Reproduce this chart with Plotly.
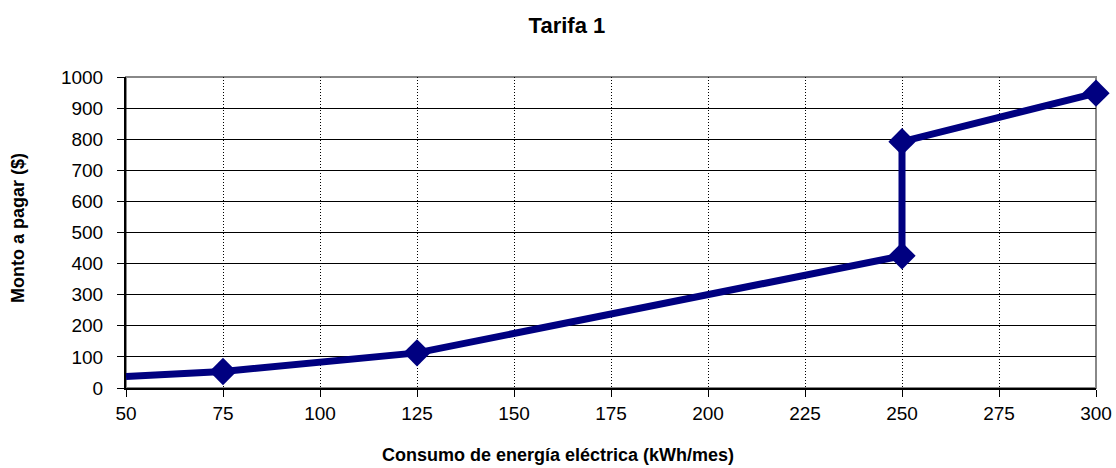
import plotly.graph_objects as go

consumo = [50, 75, 125, 250, 250, 300]
monto = [37, 53, 113, 425, 792, 948]
x_ticks = [50, 75, 100, 125, 150, 175, 200, 225, 250, 275, 300]
y_ticks = [0, 100, 200, 300, 400, 500, 600, 700, 800, 900, 1000]

fig = go.Figure()
fig.add_trace(go.Scatter(
    x=consumo, y=monto, mode='lines+markers',
    line=dict(color='#000080', width=7),
    marker=dict(symbol='diamond', size=[0, 21, 21, 21, 21, 21], color='#000080',
                opacity=1, line=dict(width=0)),
    cliponaxis=False, showlegend=False,
))

# plot area: x 126..1096, y 77..388 (pixels)
fig.update_layout(
    width=1116, height=468,
    plot_bgcolor='white', paper_bgcolor='white',
    font=dict(family='Liberation Sans, Arial', size=19, color='black'),
    margin=dict(l=126, r=20, t=77, b=80, autoexpand=False),
    title=dict(text='<b>Tarifa 1</b>', x=0.508, xanchor='center', y=0.945, yanchor='middle',
               font=dict(size=22)),
    shapes=[dict(type='rect', xref='paper', yref='paper', x0=0, y0=0, x1=1, y1=1,
                 line=dict(color='#888888', width=2), layer='below')],
    annotations=[
        dict(text='<b>Consumo de energía eléctrica (kWh/mes)</b>', xref='paper', yref='paper',
             x=(558 - 126) / 970, y=-(455 - 388) / 311, xanchor='center', yanchor='middle',
             showarrow=False, font=dict(size=18)),
        dict(text='<b>Monto a pagar ($)</b>', xref='paper', yref='paper',
             x=-(126 - 18) / 970, y=(388 - 228) / 311, xanchor='center', yanchor='middle',
             textangle=-90, showarrow=False, font=dict(size=18)),
    ],
)
fig.update_xaxes(
    range=[50, 300], tickvals=x_ticks, showgrid=True, gridcolor='black', gridwidth=1,
    griddash='1px,2px', showline=True, linecolor='black', linewidth=2,
    ticks='outside', ticklen=7, tickcolor='black', zeroline=False, automargin=False,
)
fig.update_yaxes(
    range=[0, 1000], tickvals=y_ticks, showgrid=True, gridcolor='black', gridwidth=1,
    showline=True, linecolor='black', linewidth=2, ticklabelstandoff=10,
    ticks='outside', ticklen=7, tickcolor='black', zeroline=False, automargin=False,
)

fig.write_html('out.html', config={'displayModeBar': False},
               post_script="document.body.style.margin='0';")
